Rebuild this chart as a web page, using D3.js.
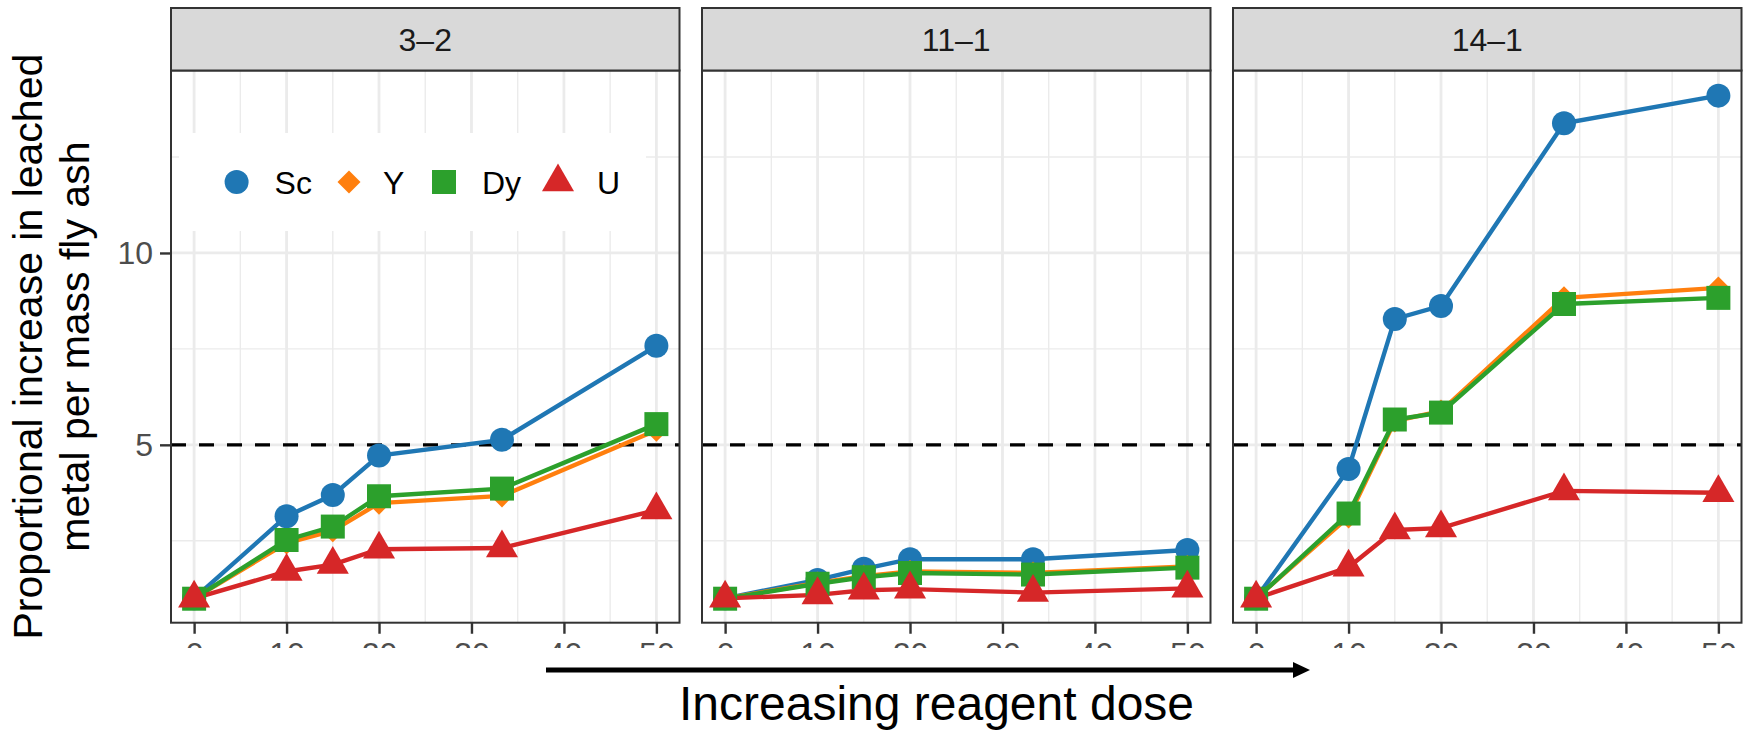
<!DOCTYPE html>
<html>
<head>
<meta charset="utf-8">
<script src="https://cdn.jsdelivr.net/npm/d3@7"></script>
<style>
  html, body { margin: 0; padding: 0; background: #fff; }
  svg { display: block; font-family: "Liberation Sans", Arial, Helvetica, sans-serif; }
</style>
</head>
<body>
<script>
// data
const doses = [0, 10, 15, 20, 33.3, 50];
const facets = ['3\u20132', '11\u20131', '14\u20131'];
const elements = ['Sc', 'Y', 'Dy', 'U'];
const colors = ['#1f77b4', '#ff7f0e', '#2ca02c', '#d62728'];
const xTicks = [0, 10, 20, 30, 40, 50];
const yTicks = [5, 10];
const threshold = 5;

// one array per element, per facet
const sc32 = [1.0, 3.14, 3.69, 4.72, 5.13, 7.58];
const y32 = [1.0, 2.44, 2.76, 3.48, 3.67, 5.38];
const dy32 = [0.99, 2.52, 2.87, 3.66, 3.86, 5.54];
const u32 = [1.0, 1.70, 1.88, 2.28, 2.31, 3.30];

const sc111 = [1.0, 1.48, 1.77, 2.02, 2.02, 2.26];
const y111 = [1.0, 1.40, 1.58, 1.70, 1.66, 1.83];
const dy111 = [0.99, 1.38, 1.55, 1.66, 1.62, 1.80];
const u111 = [1.0, 1.09, 1.21, 1.24, 1.15, 1.26];

const sc141 = [1.0, 4.37, 8.28, 8.62, 13.38, 14.10];
const y141 = [1.0, 3.12, 5.62, 5.88, 8.83, 9.09];
const dy141 = [0.99, 3.21, 5.66, 5.84, 8.67, 8.83];
const u141 = [1.0, 1.81, 2.78, 2.83, 3.80, 3.75];

const facetValues = [
  [sc32, y32, dy32, u32],
  [sc111, y111, dy111, u111],
  [sc141, y141, dy141, u141]
];

const width = 1744, height = 731;
const panelLeft = 171, panelW = 508.5, panelGap = 22.5;
const stripTop = 8, panelTop = 70.5, panelBottom = 622.7;
const font = '"Liberation Sans", Arial, Helvetica, sans-serif';

const svg = d3.select('body').append('svg')
  .attr('width', width)
  .attr('height', height);

const x = d3.scaleLinear().domain([-2.5, 52.5]).range([0, panelW]);
const y = d3.scaleLinear().domain([0.365, 14.755]).range([panelBottom, panelTop]);

const shapes = [
  { type: d3.symbolCircle, size: Math.PI * 12 * 12, rotate: 0 },
  { type: d3.symbolSquare, size: 265, rotate: 45 },
  { type: d3.symbolSquare, size: 24 * 24, rotate: 0 },
  { type: d3.symbolTriangle, size: 445, rotate: 0 }
];

const line = d3.line().x(d => x(d.dose)).y(d => y(d.value));

facets.forEach((facet, fi) => {
  const left = panelLeft + fi * (panelW + panelGap);
  const g = svg.append('g').attr('transform', `translate(${left},0)`);

  // gridlines
  const minorX = d3.range(5, 55, 10);
  const minorY = [2.5, 7.5, 12.5];
  g.selectAll('.gx-minor').data(minorX).enter().append('line')
    .attr('x1', d => x(d)).attr('x2', d => x(d))
    .attr('y1', panelTop).attr('y2', panelBottom)
    .attr('stroke', '#ebebeb').attr('stroke-width', 1.4);
  g.selectAll('.gy-minor').data(minorY).enter().append('line')
    .attr('x1', 0).attr('x2', panelW)
    .attr('y1', d => y(d)).attr('y2', d => y(d))
    .attr('stroke', '#ebebeb').attr('stroke-width', 1.4);
  g.selectAll('.gx-major').data(xTicks).enter().append('line')
    .attr('x1', d => x(d)).attr('x2', d => x(d))
    .attr('y1', panelTop).attr('y2', panelBottom)
    .attr('stroke', '#ebebeb').attr('stroke-width', 2.8);
  g.selectAll('.gy-major').data(yTicks).enter().append('line')
    .attr('x1', 0).attr('x2', panelW)
    .attr('y1', d => y(d)).attr('y2', d => y(d))
    .attr('stroke', '#ebebeb').attr('stroke-width', 2.8);

  // legend box sits inside the first panel
  if (fi === 0) {
    g.append('rect')
      .attr('x', 8).attr('y', 133)
      .attr('width', 638 - panelLeft).attr('height', 98)
      .attr('fill', '#fff');
  }

  // threshold
  g.append('line')
    .attr('x1', 0).attr('x2', panelW)
    .attr('y1', y(threshold)).attr('y2', y(threshold))
    .attr('stroke', '#000').attr('stroke-width', 3.2)
    .attr('stroke-dasharray', '15,13');

  const series = elements.map((el, i) => ({
    name: el,
    color: colors[i],
    shape: shapes[i],
    points: doses.map((d, j) => ({ dose: d, value: facetValues[fi][i][j] }))
  }));

  g.selectAll('.series-line').data(series).enter().append('path')
    .attr('d', s => line(s.points))
    .attr('fill', 'none')
    .attr('stroke', s => s.color)
    .attr('stroke-width', 4.4);

  series.forEach(s => {
    const sym = d3.symbol().type(s.shape.type).size(s.shape.size);
    g.selectAll(null).data(s.points).enter().append('path')
      .attr('d', sym)
      .attr('transform', d => `translate(${x(d.dose)},${y(d.value)}) rotate(${s.shape.rotate})`)
      .attr('fill', s.color);
  });

  // panel border
  g.append('rect')
    .attr('x', 0).attr('y', panelTop)
    .attr('width', panelW).attr('height', panelBottom - panelTop)
    .attr('fill', 'none').attr('stroke', '#333').attr('stroke-width', 2);

  // strip
  g.append('rect')
    .attr('x', 0).attr('y', stripTop)
    .attr('width', panelW).attr('height', panelTop - stripTop)
    .attr('fill', '#d9d9d9').attr('stroke', '#333').attr('stroke-width', 2);
  g.append('text')
    .attr('x', panelW / 2).attr('y', 51)
    .attr('text-anchor', 'middle')
    .attr('font-size', 32)
    .attr('fill', '#1a1a1a')
    .text(facet);

  // x axis; labels are partly hidden below y=648
  g.append('clipPath').attr('id', `tickclip${fi}`)
    .append('rect').attr('x', -50).attr('y', -10)
    .attr('width', panelW + 100).attr('height', 648 - panelBottom + 10);
  const xAxis = g.append('g')
    .attr('transform', `translate(0,${panelBottom})`)
    .attr('clip-path', `url(#tickclip${fi})`)
    .call(d3.axisBottom(x).tickValues(xTicks).tickSize(11).tickPadding(9).tickSizeOuter(0));
  xAxis.select('.domain').remove();
  xAxis.selectAll('line').attr('stroke', '#333').attr('stroke-width', 2.4);
  xAxis.selectAll('text')
    .attr('font-size', 32)
    .attr('font-family', font)
    .attr('fill', '#4d4d4d');

  if (fi === 0) {
    const yAxis = g.append('g')
      .call(d3.axisLeft(y).tickValues(yTicks).tickSize(11).tickPadding(7).tickSizeOuter(0));
    yAxis.select('.domain').remove();
    yAxis.selectAll('line').attr('stroke', '#333').attr('stroke-width', 2.4);
    yAxis.selectAll('text')
      .attr('font-size', 32)
      .attr('font-family', font)
      .attr('fill', '#4d4d4d');

    // legend entries
    const legendX = [236.6, 349, 444, 558].map(v => v - panelLeft);
    const labelX = [274.6, 383, 482, 597].map(v => v - panelLeft);
    const legend = g.append('g');
    elements.forEach((el, i) => {
      legend.append('path')
        .attr('d', d3.symbol().type(shapes[i].type).size(shapes[i].size))
        .attr('transform', `translate(${legendX[i]},182) rotate(${shapes[i].rotate})`)
        .attr('fill', colors[i]);
      legend.append('text')
        .attr('x', labelX[i]).attr('y', 193.5)
        .attr('font-size', 32)
        .attr('fill', '#000')
        .text(el);
    });
  }
});

// y axis title, two lines
const midY = (panelTop + panelBottom) / 2;
const yTitle = svg.append('text')
  .attr('transform', `translate(42,${midY}) rotate(-90)`)
  .attr('text-anchor', 'middle')
  .attr('font-size', 41)
  .attr('fill', '#000');
yTitle.append('tspan').attr('x', 0).attr('y', 0).text('Proportional increase in leached');
yTitle.append('tspan').attr('x', 0).attr('y', 47).text('metal per mass fly ash');

// arrow under the axes
svg.append('line')
  .attr('x1', 546).attr('x2', 1295)
  .attr('y1', 670).attr('y2', 670)
  .attr('stroke', '#000').attr('stroke-width', 5);
svg.append('path')
  .attr('d', 'M1293,662 L1310,670 L1293,678 Z')
  .attr('fill', '#000');

svg.append('text')
  .attr('x', 679).attr('y', 720)
  .attr('font-size', 48)
  .attr('fill', '#000')
  .text('Increasing reagent dose');
</script>
</body>
</html>
